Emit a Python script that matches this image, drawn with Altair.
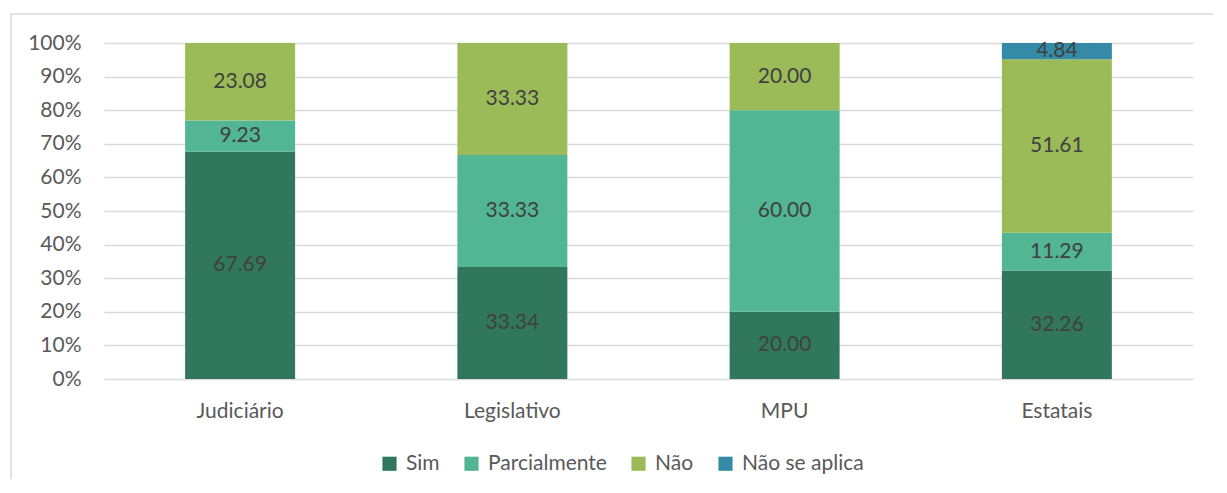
import altair as alt
import pandas as pd

groups = ["Judiciário", "Legislativo", "MPU", "Estatais"]
categories = ["Sim", "Parcialmente", "Não", "Não se aplica"]
colors = ["#31775E", "#52B593", "#9BBB59", "#348AA7"]

sim = [67.69, 33.34, 20.00, 32.26]
parcialmente = [9.23, 33.33, 60.00, 11.29]
nao = [23.08, 33.33, 20.00, 51.61]
nao_se_aplica = [0.0, 0.0, 0.0, 4.84]

series = [sim, parcialmente, nao, nao_se_aplica]
rows = []
for ci, (cat, vals) in enumerate(zip(categories, series)):
    for g, v in zip(groups, vals):
        if v > 0:
            rows.append({"grupo": g, "resposta": cat, "valor": v, "ordem": ci})
df = pd.DataFrame(rows)

FONT = "Lato"
FS = 21
W, H = 1089, 336

x_axis = alt.Axis(labelAngle=0, domain=False, ticks=False,
                  labelFontSize=FS, labelColor="#595959",
                  labelFont=FONT, labelPadding=21)
x_scale = alt.Scale(paddingInner=0.596, paddingOuter=0.298)
y_axis = alt.Axis(values=list(range(0, 101, 10)),
                  labelExpr="datum.value + '%'",
                  labelOverlap=False,
                  domain=False, ticks=False,
                  labelFontSize=FS, labelColor="#595959",
                  labelFont=FONT, labelPadding=23,
                  gridColor="#D9D9D9", gridWidth=1.5)
y_scale = alt.Scale(domain=[0, 100], nice=False)

base = alt.Chart(df)

bars = base.mark_bar().encode(
    x=alt.X("grupo:N", sort=groups, title=None, scale=x_scale, axis=x_axis),
    y=alt.Y("valor:Q", stack="zero", title=None, scale=y_scale, axis=y_axis),
    color=alt.Color("resposta:N", sort=categories,
                    scale=alt.Scale(domain=categories, range=colors),
                    legend=alt.Legend(title=None, orient="none",
                                      direction="horizontal",
                                      legendX=275, legendY=410,
                                      symbolType="square", symbolSize=200,
                                      symbolStrokeWidth=0, symbolOpacity=1,
                                      labelFontSize=FS, labelColor="#595959",
                                      labelFont=FONT, labelOffset=6,
                                      columnPadding=21, columns=4)),
    order=alt.Order("ordem:Q"),
)

labels = base.transform_stack(
    stack="valor", groupby=["grupo"], as_=["v0", "v1"],
    sort=[alt.SortField("ordem", order="ascending")]
).transform_calculate(
    mid="(datum.v0 + datum.v1) / 2",
    lab="format(datum.valor, '.2f')"
).mark_text(fontSize=FS, color="#404040", font=FONT, baseline="middle").encode(
    x=alt.X("grupo:N", sort=groups, title=None, scale=x_scale, axis=x_axis),
    y=alt.Y("mid:Q", title=None, scale=y_scale, axis=y_axis),
    text="lab:N",
)

frame_df = pd.DataFrame({"f": [1]})
frame = alt.Chart(frame_df).mark_rect(fill=None, stroke="#D9D9D9", strokeWidth=1.5).encode(
    x=alt.value(-93), x2=alt.value(1117), y=alt.value(-29), y2=alt.value(460)
)

chart = alt.layer(bars, labels, frame).properties(
    width=W, height=H,
    autosize=alt.AutoSizeParams(type="none"),
    padding={"left": 96, "top": 35, "right": 20, "bottom": 100},
).configure_view(stroke=None)

chart.save("out.html", embed_options={"renderer": "svg", "actions": False})
